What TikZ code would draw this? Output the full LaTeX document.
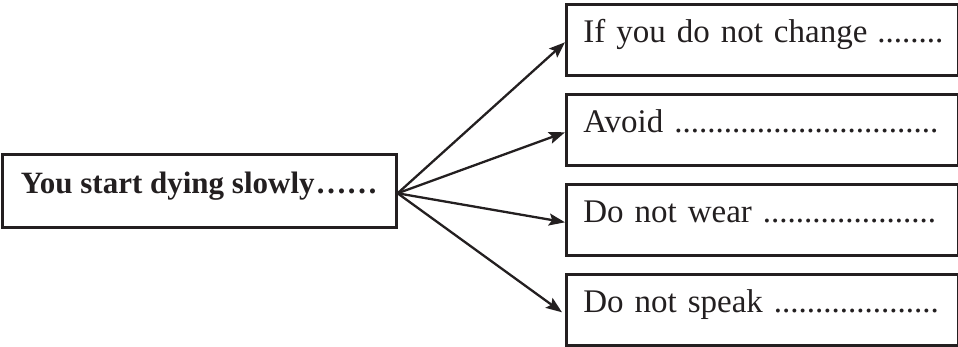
\documentclass[tikz,border=0pt]{standalone}
\usepackage{fontspec}
\setmainfont{Liberation Serif}
\usetikzlibrary{arrows.meta}
\definecolor{ink}{RGB}{35,31,32}
\begin{document}
\begin{tikzpicture}[x=1pt,y=-1pt,
  lbox/.style={draw=ink, line width=2.6pt, rectangle, inner ysep=0pt, inner xsep=10pt,
    minimum width=394pt, text height=39pt, text depth=34pt,
    font=\fontsize{31}{36}\selectfont\bfseries, text=ink},
  rbox/.style={draw=ink, line width=2.6pt, rectangle, inner ysep=0pt, inner xsep=17pt,
    text width=358pt, align=left, text height=38pt, text depth=33pt, anchor=north west,
    font=\fontsize{33}{38}\selectfont, text=ink},
  arr/.style={draw=ink, line width=2.3pt, -{Stealth[length=16pt,width=12pt,inset=3pt]}}]
\useasboundingbox (0,0) rectangle (958,347);
\node[lbox, anchor=north west] (L) at (1,153) {You start dying slowly\kern1pt……};
\node[rbox] (B1) at (565,3) {\mbox{If you do not change\hspace{10pt}........}};
\node[rbox] (B2) at (565,93) {\mbox{Avoid ................................}};
\node[rbox] (B3) at (565,183) {\mbox{Do not wear .....................}};
\node[rbox] (B4) at (565,273) {\mbox{Do not speak ....................}};
\coordinate (o) at (L.base east);
\draw[arr] (o) -- (B1.base west);
\draw[arr] (o) -- (B2.base west);
\draw[arr] (o) -- (B3.base west);
\draw[arr] (o) -- ([xshift=-3pt]B4.base west);
\end{tikzpicture}
\end{document}
